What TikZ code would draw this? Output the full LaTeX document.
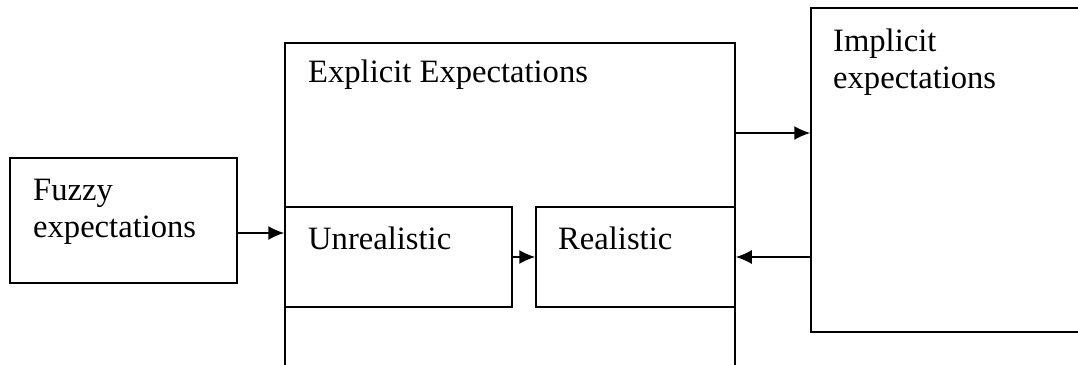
\documentclass[tikz,border=0pt]{standalone}
\usepackage{fontspec}
\setmainfont{Liberation Serif}
\usetikzlibrary{arrows.meta}
\begin{document}
\begin{tikzpicture}[x=1pt,y=-1pt,
  box/.style={draw=black, line width=1.5pt, rectangle, inner sep=0pt},
  lbl/.style={anchor=base west, inner sep=0pt, font=\fontsize{32.6pt}{37pt}\selectfont, align=left},
  arr/.style={line width=1.6pt, -{Latex[length=16pt,width=14pt]}}]
\useasboundingbox (0,0) rectangle (1078,364);
\clip (0,0) rectangle (1078,364);
\node[box, minimum width=227pt, minimum height=125pt] (fuzzy) at (123.5,220.5) {};
\node[box, minimum width=450pt, minimum height=377pt] (explicit) at (510,231.5) {};
\node[box, minimum width=227pt, minimum height=100pt] (unreal) at (398.5,257) {};
\node[box, minimum width=199pt, minimum height=100pt] (real) at (635.5,257) {};
\node[box, minimum width=309pt, minimum height=324pt] (implicit) at (965.5,170) {};
\node[lbl] (tfuzzy) at (33,237) {Fuzzy\\expectations};
\node[lbl] (texplicit) at (308,82.5) {Explicit Expectations};
\node[lbl] (tunreal) at (308,249) {Unrealistic};
\node[lbl] (treal) at (558,249) {Realistic};
\node[lbl] (timplicit) at (833,88) {Implicit\\expectations};
\coordinate (a1) at ([yshift=-12.5pt]fuzzy.east);
\draw[arr] (a1) -- (a1 -| unreal.west);
\draw[arr] (unreal.east) -- (real.west);
\coordinate (a3) at ([yshift=98.5pt]explicit.east);
\draw[arr] (a3) -- (a3 -| implicit.west);
\draw[arr] (real.east -| implicit.west) -- (real.east);
\end{tikzpicture}
\end{document}
